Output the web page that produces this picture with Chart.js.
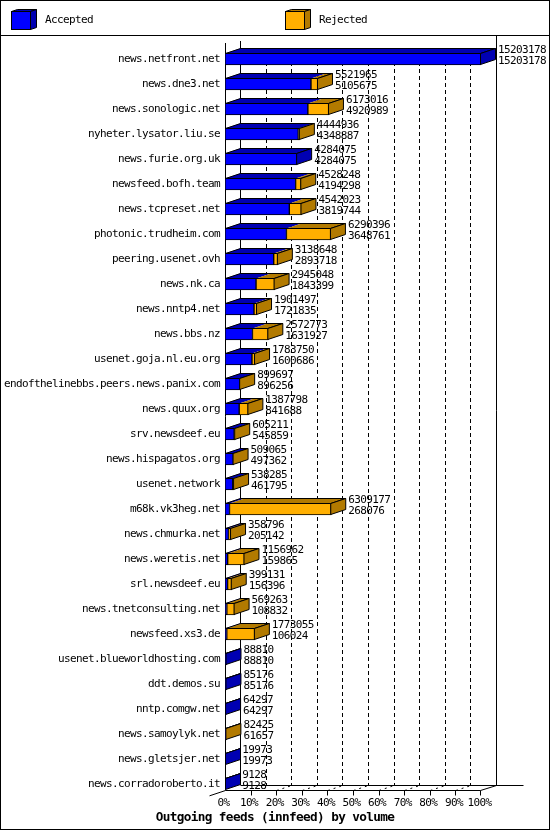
<!DOCTYPE html>
<html>
<head>
<meta charset="utf-8">
<style>
html,body{margin:0;padding:0;background:#fff;}
canvas{display:block;}
</style>
<script src="https://cdn.jsdelivr.net/npm/chart.js@4.4.1/dist/chart.umd.min.js"></script>
</head>
<body>
<canvas id="c" width="550" height="830"></canvas>
<script>
const categories = [
  'news.netfront.net','news.dne3.net','news.sonologic.net','nyheter.lysator.liu.se',
  'news.furie.org.uk','newsfeed.bofh.team','news.tcpreset.net','photonic.trudheim.com',
  'peering.usenet.ovh','news.nk.ca','news.nntp4.net','news.bbs.nz',
  'usenet.goja.nl.eu.org','endofthelinebbs.peers.news.panix.com','news.quux.org','srv.newsdeef.eu',
  'news.hispagatos.org','usenet.network','m68k.vk3heg.net','news.chmurka.net',
  'news.weretis.net','srl.newsdeef.eu','news.tnetconsulting.net','newsfeed.xs3.de',
  'usenet.blueworldhosting.com','ddt.demos.su','nntp.comgw.net','news.samoylyk.net',
  'news.gletsjer.net','news.corradoroberto.it'
];
const offered = [
  15203178, 5521965, 6173016, 4444936,
  4284075, 4528248, 4542023, 6290396,
  3138648, 2945048, 1901497, 2572773,
  1783750, 899697, 1387798, 605211,
  509065, 538285, 6309177, 358796,
  1156962, 399131, 569263, 1773055,
  88810, 85176, 64297, 82425,
  19973, 9128
];
const accepted = [
  15203178, 5105675, 4920989, 4348887,
  4284075, 4194298, 3819744, 3648761,
  2893718, 1843399, 1721835, 1631927,
  1600686, 896256, 841688, 545859,
  497362, 461795, 268076, 205142,
  159865, 156396, 108832, 106024,
  88810, 85176, 64297, 61657,
  19973, 9128
];
const rejected = offered.map((v, i) => v - accepted[i]);
const percentTicks = ['0%','10%','20%','30%','40%','50%','60%','70%','80%','90%','100%'];
const seriesNames = ['Accepted', 'Rejected'];
const titleText = 'Outgoing feeds (innfeed) by volume';

const frontColors = ['#0000FF', '#FFAF00'];
const darkColors = ['#0000B2', '#B27A00'];
const MONO = "'DejaVu Sans Mono', 'Liberation Mono', monospace";
const TEXT_SIZE = 11;
const TEXT_SPACING = '-0.62px';
const maxValue = Math.max(...offered);

function poly(ctx, pts) {
  ctx.beginPath();
  ctx.moveTo(pts[0][0], pts[0][1]);
  for (let i = 1; i < pts.length; i++) ctx.lineTo(pts[i][0], pts[i][1]);
  ctx.closePath();
}

const pseudo3d = {
  id: 'pseudo3d',
  beforeDraw(chart, args, o) {
    const ctx = chart.ctx;
    ctx.letterSpacing = TEXT_SPACING;
    ctx.save();
    ctx.fillStyle = '#fff';
    ctx.fillRect(0, 0, chart.width, chart.height);
    ctx.strokeStyle = '#000';
    ctx.lineWidth = 1;
    ctx.beginPath();
    ctx.moveTo(0, o.bandY + 0.5); ctx.lineTo(chart.width, o.bandY + 0.5);
    ctx.stroke();
    ctx.strokeRect(0.5, 0.5, chart.width - 1, chart.height - 1);
    const legendX = [11, 285];
    seriesNames.forEach((name, k) => {
      const x = legendX[k], y = 11, w = 20, h = 19, d = 6, e = 2;
      ctx.fillStyle = frontColors[k];
      ctx.fillRect(x, y, w, h);
      ctx.strokeRect(x + 0.5, y + 0.5, w - 1, h - 1);
      ctx.fillStyle = darkColors[k];
      poly(ctx, [[x + 0.5, y + 0.5], [x + 0.5 + d, y + 0.5 - e], [x + w - 0.5 + d, y + 0.5 - e], [x + w - 0.5, y + 0.5]]);
      ctx.fill(); ctx.stroke();
      poly(ctx, [[x + w - 0.5, y + 0.5], [x + w - 0.5 + d, y + 0.5 - e], [x + w - 0.5 + d, y + h - 0.5 - e], [x + w - 0.5, y + h - 0.5]]);
      ctx.fill(); ctx.stroke();
      ctx.fillStyle = '#000';
      ctx.font = TEXT_SIZE + 'px ' + MONO;
      ctx.textAlign = 'left';
      ctx.textBaseline = 'middle';
      ctx.fillText(name, x + 34, 20.5);
    });
    ctx.restore();
  },
  beforeDatasetsDraw(chart, args, o) {
    const ctx = chart.ctx, xs = chart.scales.x, ys = chart.scales.y;
    const dx = o.dx, dy = o.dy, half = o.barH / 2;
    const n = categories.length;
    const topFace = ys.getPixelForValue(0) - half - dy;
    const floorFront = ys.getPixelForValue(n - 1) + half;
    const floorBack = floorFront - dy;
    const x0 = xs.getPixelForValue(0), x1 = xs.getPixelForValue(maxValue);
    const px = v => Math.round(v) + 0.5;
    ctx.save();
    ctx.strokeStyle = '#000';
    ctx.lineWidth = 1;
    ctx.setLineDash([4, 3]);
    for (let k = 1; k < 10; k++) {
      const x = px(xs.getPixelForValue(maxValue * k / 10) + dx);
      ctx.beginPath(); ctx.moveTo(x, topFace); ctx.lineTo(x, floorBack); ctx.stroke();
    }
    ctx.setLineDash([2, 4]);
    for (let k = 2; k < 10; k++) {
      const x = xs.getPixelForValue(maxValue * k / 10);
      ctx.beginPath(); ctx.moveTo(x + 0.5, floorFront + 0.5); ctx.lineTo(x + dx + 0.5, floorBack + 0.5); ctx.stroke();
    }
    ctx.setLineDash([]);
    ctx.beginPath();
    ctx.moveTo(px(x0 + dx), o.bandY + 6); ctx.lineTo(px(x0 + dx), floorBack);
    ctx.moveTo(px(x1 + dx), o.bandY); ctx.lineTo(px(x1 + dx), floorBack + 0.5);
    ctx.moveTo(px(x0), o.bandY + 8); ctx.lineTo(px(x0), floorFront + 0.5);
    ctx.moveTo(px(x0), floorFront + 0.5); ctx.lineTo(px(x1 - 1), floorFront + 0.5);
    ctx.moveTo(px(x0 + dx), floorBack + 0.5); ctx.lineTo(px(x1 + dx + 27), floorBack + 0.5);
    ctx.moveTo(px(x1 - 1), floorFront + 0.5); ctx.lineTo(px(x1 + dx), floorBack + 0.5);
    ctx.moveTo(px(x0), floorFront + 0.5); ctx.lineTo(px(x0) - 16, floorFront + 0.5 + 16 * dy / dx);
    for (let k = 1; k <= 10; k++) {
      const x = px(xs.getPixelForValue(maxValue * k / 10) - (k === 10 ? 1 : 0));
      ctx.moveTo(x, floorFront + 0.5); ctx.lineTo(x, floorFront + 5.5);
    }
    ctx.stroke();
    ctx.restore();
  },
  afterDatasetsDraw(chart, args, o) {
    const ctx = chart.ctx;
    const m0 = chart.getDatasetMeta(0), m1 = chart.getDatasetMeta(1);
    const dx = o.dx, dy = o.dy;
    ctx.save();
    ctx.lineWidth = 1;
    ctx.strokeStyle = '#000';
    for (let i = 0; i < categories.length; i++) {
      const a = m0.data[i], b = m1.data[i];
      const y = a.y, h = a.height;
      const T = y - h / 2 + 0.5, B = y + h / 2 - 0.5;
      const start = a.base, mid = a.x, end = b.x;
      const segs = [[start, mid], [mid, end]];
      segs.forEach(([s, e], k) => {
        if (e - s <= 0) return;
        ctx.fillStyle = darkColors[k];
        poly(ctx, [[s, T], [s + dx, T - dy], [e + dx, T - dy], [e, T]]);
        ctx.fill();
      });
      const L = start + 0.5;
      const R = Math.max(L, end - 0.5);
      poly(ctx, [[L, T], [L + dx, T - dy], [R + dx, T - dy], [R, T]]);
      ctx.stroke();
      const last = rejected[i] > 0 ? 1 : 0;
      ctx.fillStyle = darkColors[last];
      poly(ctx, [[R, T], [R + dx, T - dy], [R + dx, B - dy], [R, B]]);
      ctx.fill(); ctx.stroke();
      ctx.fillStyle = '#000';
      ctx.font = TEXT_SIZE + 'px ' + MONO;
      ctx.textAlign = 'left';
      ctx.textBaseline = 'middle';
      ctx.fillText(String(offered[i]), end + dx + 2, T - 3);
      ctx.fillText(String(accepted[i]), end + dx + 2, T + 8);
    }
    ctx.restore();
  }
};

new Chart(document.getElementById('c'), {
  type: 'bar',
  data: {
    labels: categories,
    datasets: [
      { label: seriesNames[0], data: accepted, backgroundColor: frontColors[0], borderColor: '#000', borderWidth: 1, borderSkipped: false, barThickness: 12 },
      { label: seriesNames[1], data: rejected, backgroundColor: frontColors[1], borderColor: '#000', borderWidth: 1, borderSkipped: false, barThickness: 12 }
    ]
  },
  options: {
    indexAxis: 'y',
    responsive: false,
    animation: false,
    devicePixelRatio: 1,
    layout: { padding: { top: 46.5, left: 0, right: 0, bottom: 5.8 } },
    scales: {
      x: {
        type: 'linear', stacked: true, min: 0, max: maxValue,
        grid: { display: false, drawTicks: false },
        border: { display: false },
        afterBuildTicks(s) { s.ticks = percentTicks.map((t, k) => ({ value: maxValue * k / 10 })); },
        afterFit(s) { s.height = 14; },
        ticks: {
          autoSkip: false, maxRotation: 0, minRotation: 0, padding: 0, labelOffset: -1.5,
          color: '#000', font: { family: MONO, size: TEXT_SIZE },
          callback: (v, i) => percentTicks[i]
        }
      },
      y: {
        type: 'category', stacked: true,
        grid: { display: false, drawTicks: false },
        border: { display: false },
        afterFit(s) { s.width = 225; },
        ticks: { autoSkip: false, padding: 5, color: '#000', font: { family: MONO, size: TEXT_SIZE } }
      },
      yRight: {
        type: 'linear', position: 'right', display: true,
        grid: { display: false, drawTicks: false },
        border: { display: false },
        ticks: { display: false },
        afterFit(s) { s.width = 69; }
      }
    },
    plugins: {
      legend: { display: false },
      tooltip: { enabled: false },
      title: {
        display: true, position: 'bottom', text: titleText, color: '#000',
        font: { family: MONO, size: 12.7, weight: 'bold', lineHeight: 1 },
        padding: { top: 1, bottom: 0 }
      },
      pseudo3d: { dx: 15, dy: 5, barH: 12, bandY: 35 }
    }
  },
  plugins: [pseudo3d]
});
</script>
</body>
</html>
